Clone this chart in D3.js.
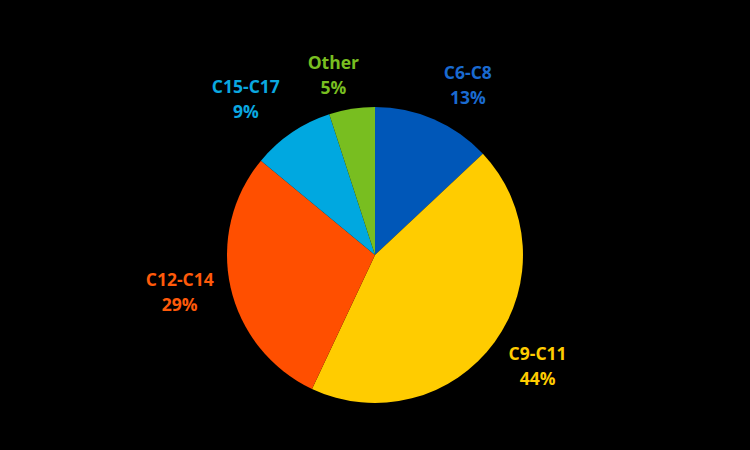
<!DOCTYPE html>
<html><head><meta charset="utf-8">
<script src="https://cdn.jsdelivr.net/npm/d3@7"></script>
<style>html,body{margin:0;padding:0;background:#000;}</style>
</head><body>
<svg id="chart" width="750" height="450"></svg>
<script>
const categories = ["C6-C8", "C9-C11", "C12-C14", "C15-C17", "Other"];
const values = [13, 44, 29, 9, 5];
const sliceColors = ["#0057B8", "#FFCC00", "#FF4F00", "#00A8E0", "#78BE20"];
const labelColors = ["#1A6AD0", "#FFCC00", "#FF5A0A", "#0AA8E0", "#78BE20"];
const labelNudge = [[15, 10], [4, -4], [-4, -6], [-19, 6], [-11, 14]];

const svg = d3.select("#chart");
svg.append("rect").attr("width", 750).attr("height", 450).attr("fill", "#000");
const cx = 375, cy = 255, r = 148;
const g = svg.append("g").attr("transform", `translate(${cx},${cy})`);
const data = categories.map((c, i) => ({ c, v: values[i], i }));
const pie = d3.pie().value(d => d.v).sort(null);
const arc = d3.arc().innerRadius(0).outerRadius(r);
const labelArc = d3.arc().innerRadius(196).outerRadius(196);
const arcs = pie(data);
g.selectAll("path").data(arcs).enter().append("path")
  .attr("d", arc).attr("fill", d => sliceColors[d.data.i]);
const lbl = g.selectAll("text").data(arcs).enter().append("text")
  .attr("text-anchor", "middle")
  .attr("font-family", "'Open Sans', 'Liberation Sans', sans-serif")
  .attr("font-weight", "bold").attr("font-size", 17.5)
  .attr("fill", d => labelColors[d.data.i])
  .attr("transform", d => { const p = labelArc.centroid(d); const n = labelNudge[d.data.i];
    return `translate(${p[0] + n[0]},${p[1] + n[1]})`; });
lbl.append("tspan").attr("x", 0).attr("y", -6).text(d => d.data.c);
lbl.append("tspan").attr("x", 0).attr("y", 19).text(d => d.data.v + "%");
</script>
</body></html>
